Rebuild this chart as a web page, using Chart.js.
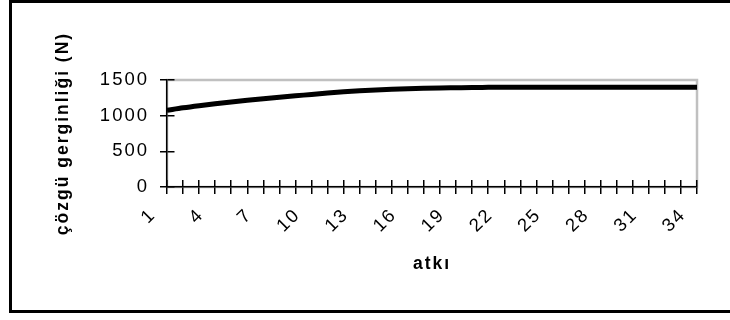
<!DOCTYPE html>
<html>
<head>
<meta charset="utf-8">
<script src="https://cdn.jsdelivr.net/npm/chart.js@4.4.1/dist/chart.umd.min.js"></script>
<style>
  html, body { margin: 0; padding: 0; background: #fff; }
  #wrap { position: relative; width: 730px; height: 320px; overflow: hidden; }
  #frame {
    position: absolute; left: 9px; top: 0; width: 740px; height: 313px;
    box-sizing: border-box; border: 3px solid #000; pointer-events: none;
  }
  canvas { position: absolute; left: 0; top: 0; }
</style>
</head>
<body>
<div id="wrap">
  <canvas id="myChart" width="730" height="320"></canvas>
  <div id="frame"></div>
</div>
<script>
// categories (atkı no.)
const atki = [
  "1", "2", "3", "4", "5", "6", "7", "8", "9", "10", "11", "12",
  "13", "14", "15", "16", "17", "18", "19", "20", "21", "22", "23", "24",
  "25", "26", "27", "28", "29", "30", "31", "32", "33", "34",
];
// çözgü gerginliği (N)
const gerginlik = [
  1075, 1110, 1140, 1167, 1192, 1215, 1237, 1258, 1278, 1298,
  1318, 1336, 1350, 1361, 1370, 1378, 1384, 1389, 1392, 1395,
  1397, 1399, 1400, 1400, 1400, 1400, 1400, 1400, 1400, 1400,
  1400, 1400, 1400, 1400,
];
const yMin = 0;
const yMax = 1500;
const yStep = 500;
const xTitle = "atkı";
const yTitle = "çözgü gerginliği (N)";

const FONT = "'Liberation Sans', Arial, sans-serif";
const ctx = document.getElementById("myChart");

// excel-ish look: grey plot border + wider letter spacing
const excelLook = {
  id: "excelLook",
  beforeDraw(chart) {
    const c = chart.ctx;
    const a = chart.chartArea;
    c.letterSpacing = "2px";
    c.save();
    c.strokeStyle = "#c0c0c0";
    c.lineWidth = 2.5;
    c.strokeRect(a.left, a.top, a.right - a.left, a.bottom - a.top);
    c.restore();
  },
};

const myChart = new Chart(ctx, {
  type: "line",
  data: {
    labels: atki,
    datasets: [
      {
        data: gerginlik,
        borderColor: "#000",
        borderWidth: 5,
        pointRadius: 0,
        cubicInterpolationMode: "monotone",
        fill: false,
      },
    ],
  },
  options: {
    responsive: false,
    animation: false,
    events: [],
    layout: { padding: { top: 80, right: 33, left: 0, bottom: 0 } },
    plugins: { legend: { display: false }, tooltip: { enabled: false } },
    scales: {
      x: {
        offset: false,
        grid: {
          color: "#000",
          lineWidth: 1.5,
          tickLength: 7,
          tickColor: "#000",
          tickWidth: 1.5,
        },
        // only the last 7px of each grid line: inner half of a cross tick
        border: { color: "#000", width: 1.5, dash: [0, 100, 7, 2000] },
        ticks: {
          autoSkip: false,
          minRotation: 45,
          maxRotation: 45,
          padding: 10,
          labelOffset: -14,
          color: "#000",
          font: { family: FONT, size: 18.5 },
          callback: (v, i) => (i % 3 === 0 ? atki[i] : ""),
        },
        title: {
          display: true,
          text: xTitle,
          color: "#000",
          font: { family: FONT, size: 17.5, weight: "bold" },
          padding: { top: 0, bottom: 45 },
        },
        afterFit: (s) => {
          s.height = 133;
        },
      },
      y: {
        min: yMin,
        max: yMax,
        grid: {
          color: "#000",
          lineWidth: 1.5,
          tickLength: 7,
          tickColor: "#000",
          tickWidth: 1.5,
        },
        border: { color: "#000", width: 1.5, dash: [7, 2000] },
        ticks: {
          stepSize: yStep,
          padding: 11,
          color: "#000",
          font: { family: FONT, size: 18.5 },
          callback: (v) => String(v),
        },
        title: {
          display: true,
          text: yTitle,
          color: "#000",
          font: { family: FONT, size: 17.5, weight: "bold" },
          padding: { top: 53, bottom: 0 },
        },
        afterFit: (s) => {
          s.width = 167;
        },
      },
    },
  },
  plugins: [excelLook],
});
</script>
</body>
</html>
